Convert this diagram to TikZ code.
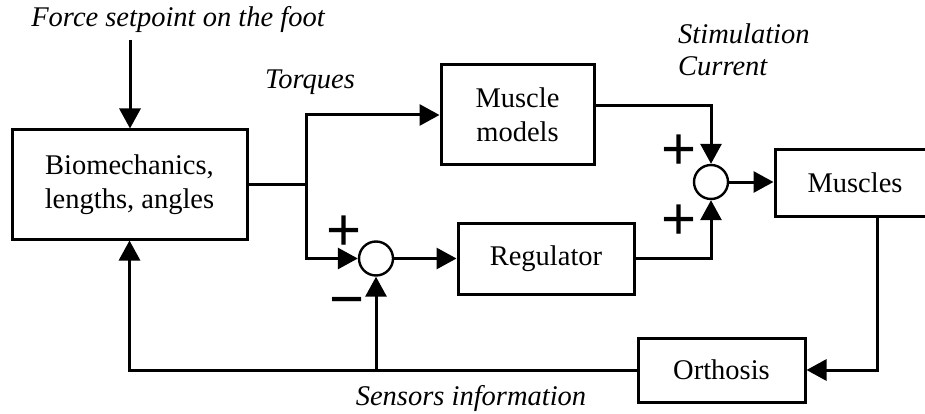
\documentclass[tikz,border=0pt]{standalone}
\usepackage{fontspec}
\setmainfont{Liberation Serif}
\newfontfamily\signfont{Liberation Sans}
\usetikzlibrary{arrows.meta}
\begin{document}
\begin{tikzpicture}[x=1pt,y=-1pt,
  blk/.style={draw,line width=3pt,align=center,inner sep=0pt,font=\fontsize{28.5}{34}\selectfont},
  sum/.style={draw,circle,line width=2.4pt,minimum size=34pt,inner sep=0pt},
  lbl/.style={font=\fontsize{28.5}{32}\selectfont\itshape,inner sep=0pt},
  sgn/.style={font=\signfont\fontsize{60}{60}\selectfont,inner sep=0pt,anchor=base},
  wire/.style={line width=3pt},
  arr/.style={line width=3pt,-{Triangle[length=20pt,width=21pt]}}]
\useasboundingbox (0,0) rectangle (925,414);
% blocks
\node[blk,minimum width=235pt,minimum height=109pt] (bio) at (129.5,184.5) {Biomechanics,\\lengths, angles};
\node[blk,minimum width=153pt,minimum height=100pt] (mm) at (517.5,115) {Muscle\\models};
\node[blk,minimum width=176pt,minimum height=71pt] (reg) at (546,258.5) {Regulator};
\node[blk,minimum width=160pt,minimum height=66pt] (mus) at (855,183) {Muscles};
\node[blk,minimum width=167pt,minimum height=64pt] (orth) at (721.5,370) {Orthosis};
% summing junctions
\node[sum] (s1) at (376,258.5) {};
\node[sum] (s2) at (711,182) {};
% labels
\node[lbl] (flab) at (178,20) {Force setpoint on the foot};
\node[lbl] (tq) at (310,82) {Torques};
\node[lbl,anchor=west,align=left] (stim) at (678,50) {Stimulation\\Current};
\node[lbl] (sens) at (471,398) {Sensors information};
% signs
\node[sgn] (p1) at (344,250) {+};
\node[sgn] (m1) at (347.5,319) {−};
\node[sgn] (p2) at (679,170) {+};
\node[sgn] (p3) at (679,239) {+};
% coordinates
\coordinate (fs) at (130,40);
\coordinate (j) at (306,184.5);
\coordinate (mr) at (877,0);
% connectors
\draw[arr] (fs) -- (fs |- bio.north);
\draw[wire] (bio.east) -- (j);
\draw[arr] (j) |- (mm.west);
\draw[arr] (j) |- (s1.west);
\draw[arr] (s1.east) -- (reg.west);
\draw[arr] ([yshift=9pt]mm.east) -| (s2.north);
\draw[arr] (reg.east) -| (s2.south);
\draw[arr] (s2.east) -- (s2.east -| mus.west);
\draw[arr] (mr |- mus.south) |- (orth.east);
\draw[arr] (orth.west) -| (bio.south);
\draw[arr] (s1 |- orth.west) -- (s1.south);
\end{tikzpicture}
\end{document}
